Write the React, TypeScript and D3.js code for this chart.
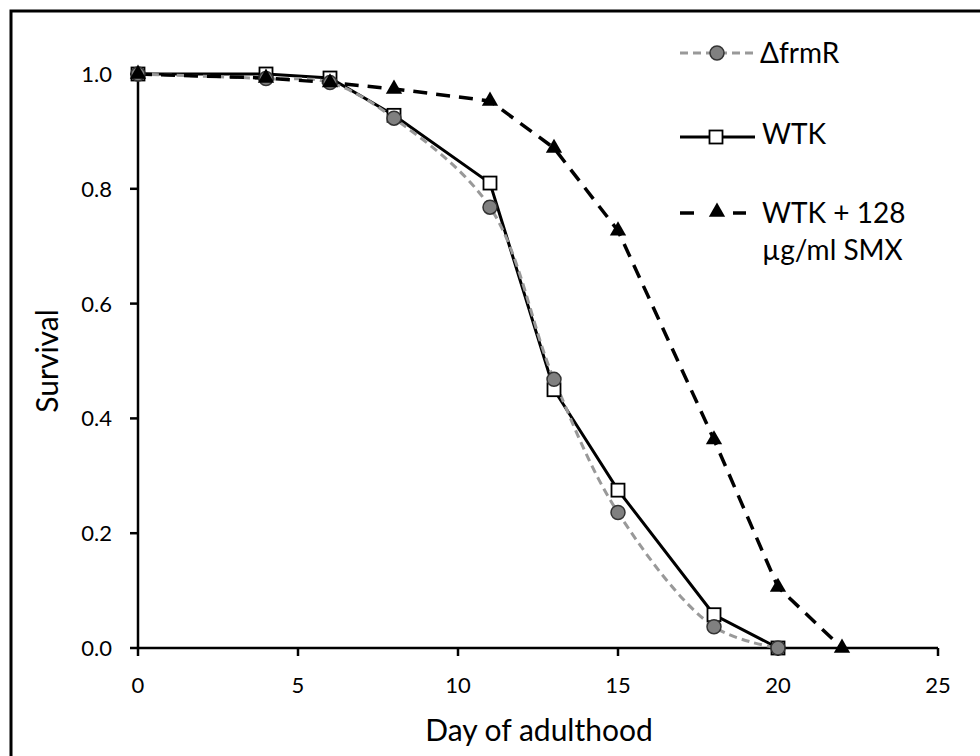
import React from "react";
import * as d3 from "d3";

const days = [0, 4, 6, 8, 11, 13, 15, 18, 20];
const daysSmx = [0, 4, 6, 8, 11, 13, 15, 18, 20, 22];
const frmR = [1.0, 0.992, 0.985, 0.923, 0.768, 0.468, 0.236, 0.037, 0.0];
const wtk = [1.0, 1.0, 0.993, 0.928, 0.81, 0.45, 0.275, 0.058, 0.0];
const wtkSmx = [1.0, 0.993, 0.985, 0.974, 0.953, 0.871, 0.727, 0.363, 0.106, 0.0];
const xTicks = [0, 5, 10, 15, 20, 25];
const yTicks = [0, 0.2, 0.4, 0.6, 0.8, 1.0];
const legendLabels = ["\u0394frmR", "WTK", "WTK + 128", "\u00b5g/ml SMX"];

const W = 980;
const H = 756;
const FONT = "Lato, 'Open Sans', sans-serif";

export default function App() {
  const x = d3.scaleLinear().domain([0, 25]).range([138, 938]);
  const y = d3.scaleLinear().domain([0, 1]).range([648, 74]);
  const lineLin = d3
    .line<[number, number]>()
    .x((d) => x(d[0]))
    .y((d) => y(d[1]));
  const lineSmooth = d3
    .line<[number, number]>()
    .x((d) => x(d[0]))
    .y((d) => y(d[1]))
    .curve(d3.curveCatmullRom.alpha(0.5));

  const pFrmR: [number, number][] = days.map((d, i) => [d, frmR[i]]);
  const pWtk: [number, number][] = days.map((d, i) => [d, wtk[i]]);
  const pSmx: [number, number][] = daysSmx.map((d, i) => [d, wtkSmx[i]]);

  const tri = d3.symbol().type(d3.symbolTriangle).size(115)();
  const sq = 13;
  const grayLine = "#999999";

  return (
    <svg
      width={W}
      height={H}
      style={{ position: "absolute", left: 0, top: 0, background: "#fff" }}
      fontFamily={FONT}
    >
      <rect x={0} y={0} width={W} height={H} fill="#fff" />
      <rect x={11} y={11} width={W} height={H} fill="none" stroke="#000" strokeWidth={3} />

      {/* axes */}
      <line x1={x(0)} x2={x(25)} y1={y(0)} y2={y(0)} stroke="#000" strokeWidth={2.5} />
      <line x1={x(0)} x2={x(0)} y1={y(0)} y2={y(1)} stroke="#000" strokeWidth={2.5} />
      {xTicks.map((t) => (
        <g key={"x" + t}>
          <line x1={x(t)} x2={x(t)} y1={y(0)} y2={y(0) + 8} stroke="#000" strokeWidth={2.5} />
          <text x={x(t)} y={693} textAnchor="middle" fontSize={22} fill="#000">
            {t}
          </text>
        </g>
      ))}
      {yTicks.map((t) => (
        <g key={"y" + t}>
          <line x1={x(0) - 8} x2={x(0)} y1={y(t)} y2={y(t)} stroke="#000" strokeWidth={2.5} />
          <text x={112} y={y(t) + 8} textAnchor="end" fontSize={22} fill="#000">
            {d3.format(".1f")(t)}
          </text>
        </g>
      ))}
      <text x={539} y={741} textAnchor="middle" fontSize={30} fill="#000">
        Day of adulthood
      </text>
      <text
        transform={`translate(58,${(y(0) + y(1)) / 2}) rotate(-90)`}
        textAnchor="middle"
        fontSize={30}
        fill="#000"
      >
        Survival
      </text>

      {/* series lines */}
      <path d={lineLin(pWtk) || ""} fill="none" stroke="#000" strokeWidth={3} />
      <path d={lineSmooth(pFrmR) || ""} fill="none" stroke={grayLine} strokeWidth={3} strokeDasharray="8,5" />
      <path d={lineLin(pSmx) || ""} fill="none" stroke="#000" strokeWidth={3.5} strokeDasharray="14,9" />

      {/* markers */}
      {pWtk.map((p, i) => (
        <rect
          key={"s" + i}
          x={x(p[0]) - sq / 2}
          y={y(p[1]) - sq / 2}
          width={sq}
          height={sq}
          fill="#fff"
          stroke="#000"
          strokeWidth={1.8}
        />
      ))}
      {pFrmR.map((p, i) => (
        <circle key={"c" + i} cx={x(p[0])} cy={y(p[1])} r={7} fill="#808080" stroke="#333" strokeWidth={1.5} />
      ))}
      {pSmx.map((p, i) => (
        <path key={"t" + i} d={tri || ""} transform={`translate(${x(p[0])},${y(p[1])})`} fill="#000" />
      ))}

      {/* legend */}
      <g>
        <line x1={680} x2={757} y1={53} y2={53} stroke={grayLine} strokeWidth={3} strokeDasharray="8,5" />
        <circle cx={717} cy={53} r={7} fill="#808080" stroke="#333" strokeWidth={1.5} />
        <text x={760} y={63} fontSize={28} fill="#000">
          {legendLabels[0]}
        </text>

        <line x1={680} x2={755} y1={137} y2={137} stroke="#000" strokeWidth={3} />
        <rect x={716 - sq / 2} y={137 - sq / 2} width={sq} height={sq} fill="#fff" stroke="#000" strokeWidth={1.8} />
        <text x={762} y={144} fontSize={28} fill="#000">
          {legendLabels[1]}
        </text>

        <line x1={680} x2={694} y1={213} y2={213} stroke="#000" strokeWidth={3.5} />
        <line x1={733} x2={746} y1={213} y2={213} stroke="#000" strokeWidth={3.5} />
        <path d={tri || ""} transform={`translate(717,212)`} fill="#000" />
        <text x={762} y={223} fontSize={28} fill="#000">
          {legendLabels[2]}
        </text>
        <text x={762} y={260} fontSize={28} fill="#000">
          {legendLabels[3]}
        </text>
      </g>
    </svg>
  );
}
